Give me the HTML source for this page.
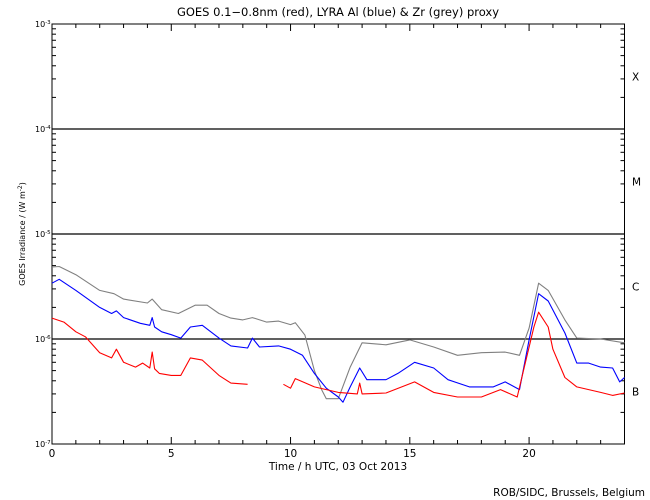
<!DOCTYPE html>
<html><head><meta charset="utf-8"><style>
body{margin:0;background:#fff;}
svg{display:block;font-family:"DejaVu Sans","Liberation Sans",sans-serif;}
</style></head><body>
<svg id="chart" width="650" height="500" viewBox="0 0 650 500" xmlns="http://www.w3.org/2000/svg">
<rect width="650" height="500" fill="#fff"/>
<text x="338" y="16" font-size="11.5" text-anchor="middle">GOES 0.1−0.8nm (red), LYRA Al (blue) &amp; Zr (grey) proxy</text>
<text transform="translate(25,234) rotate(-90)" font-size="8" text-anchor="middle">GOES Irradiance / (W m<tspan dy="-3" font-size="6">-2</tspan><tspan dy="3">)</tspan></text>
<text x="338" y="470" font-size="10.5" text-anchor="middle">Time / h UTC, 03 Oct 2013</text>
<text x="645" y="496" font-size="10.5" text-anchor="end">ROB/SIDC, Brussels, Belgium</text>
<g id="axes"></g>
<g id="series"></g>
</svg>
<script>
const hoursRed=[0,0.5,1,1.4,2,2.5,2.7,3,3.5,3.8,4.1,4.2,4.3,4.5,5,5.4,5.8,6.3,7,7.5,8.2,null,9.7,10,10.2,11,11.5,12,12.8,12.9,13,14,15.2,16,17,18,18.8,19.5,19.8,20.2,20.4,20.8,21,21.5,22,23,23.5,24];
const fluxRed=[1.58e-6,1.45e-6,1.17e-6,1.05e-6,7.4e-7,6.6e-7,8.0e-7,6.0e-7,5.4e-7,5.9e-7,5.3e-7,7.5e-7,5.2e-7,4.7e-7,4.5e-7,4.5e-7,6.6e-7,6.3e-7,4.5e-7,3.8e-7,3.7e-7,null,3.7e-7,3.4e-7,4.2e-7,3.5e-7,3.3e-7,3.1e-7,3.0e-7,3.8e-7,3.0e-7,3.06e-7,3.9e-7,3.1e-7,2.8e-7,2.8e-7,3.3e-7,2.8e-7,5.4e-7,1.3e-6,1.8e-6,1.3e-6,8.0e-7,4.3e-7,3.5e-7,3.1e-7,2.9e-7,3.06e-7];
const hoursBlue=[0,0.3,1,2,2.5,2.7,3,3.7,4.1,4.2,4.3,4.6,5,5.4,5.8,6.3,7,7.5,8.2,8.4,8.7,9.5,10,10.5,11,11.5,12,12.2,12.5,12.9,13.2,14,14.5,15.2,16,16.6,17.5,18.5,19,19.6,20,20.4,20.8,21.5,22,22.5,23,23.5,23.8,24];
const fluxBlue=[3.4e-6,3.7e-6,2.9e-6,2.0e-6,1.75e-6,1.85e-6,1.6e-6,1.41e-6,1.35e-6,1.6e-6,1.3e-6,1.17e-6,1.1e-6,1.02e-6,1.3e-6,1.35e-6,1.02e-6,8.6e-7,8.2e-7,1.02e-6,8.4e-7,8.6e-7,8.0e-7,7.0e-7,4.7e-7,3.4e-7,2.8e-7,2.5e-7,3.5e-7,5.3e-7,4.1e-7,4.1e-7,4.7e-7,6.0e-7,5.3e-7,4.1e-7,3.5e-7,3.5e-7,3.9e-7,3.3e-7,9.8e-7,2.7e-6,2.3e-6,1.14e-6,5.9e-7,5.9e-7,5.4e-7,5.3e-7,3.9e-7,4.3e-7];
const hoursGrey=[0,0.3,1,2,2.6,3,4,4.2,4.6,5.3,6,6.5,7,7.5,8,8.4,9,9.5,10,10.2,10.6,11,11.3,11.5,12,12.5,13,14,15,16,17,18,19,19.6,20,20.4,20.8,21.5,22,23,24];
const fluxGrey=[4.85e-6,4.9e-6,4.1e-6,2.9e-6,2.7e-6,2.4e-6,2.2e-6,2.4e-6,1.9e-6,1.75e-6,2.1e-6,2.1e-6,1.75e-6,1.58e-6,1.52e-6,1.6e-6,1.45e-6,1.48e-6,1.37e-6,1.43e-6,1.09e-6,5.0e-7,3.3e-7,2.7e-7,2.7e-7,5.4e-7,9.2e-7,8.8e-7,9.8e-7,8.4e-7,7.0e-7,7.4e-7,7.5e-7,7.0e-7,1.27e-6,3.4e-6,2.9e-6,1.52e-6,1.02e-6,1.0e-6,9.2e-7];
const xTickLabels=["0","5","10","15","20"];
const yDecades=[-7,-6,-5,-4,-3];
const classLabels=["B","C","M","X"];

const NS="http://www.w3.org/2000/svg";
const X0=52,X1=624.5,Y0=444,Y1=24;
function xs(h){return X0+h*(X1-X0)/24;}
function ys(v){return Y0-(Math.log10(v)+7)*(Y0-Y1)/4;}
function mk(tag,attrs,parent){const e=document.createElementNS(NS,tag);for(const k in attrs)e.setAttribute(k,attrs[k]);parent.appendChild(e);return e;}
const axes=document.getElementById('axes'),series=document.getElementById('series');

const frame=mk('rect',{x:X0,y:Y1,width:X1-X0,height:Y0-Y1,fill:'none',stroke:'#000','stroke-width':1},axes);


for(let h=0;h<=24;h++){
  const len=h%5===0?7:4;
  const t1=mk('line',{x1:xs(h),x2:xs(h),y1:Y0,y2:Y0-len,stroke:'#000'},axes);
  
  
  const t2=mk('line',{x1:xs(h),x2:xs(h),y1:Y1,y2:Y1+len,stroke:'#000'},axes);
  
  
}
xTickLabels.forEach(l=>{
  const t=mk('text',{x:xs(+l),y:457,'font-size':10.5,'text-anchor':'middle'},axes);t.textContent=l;
  
  
});
yDecades.forEach((d,i)=>{
  const y=ys(Math.pow(10,d));
  const t=mk('text',{x:35,y:y+3,'font-size':8},axes);
  t.innerHTML='10<tspan dy="-3" font-size="5.5">'+d+'</tspan>';
  
  
  if(d>-7&&d<-3){
    const g=mk('line',{x1:X0,x2:X1,y1:y,y2:y,stroke:'#000','stroke-width':1.2},axes);
    
    
  }
  if(d<-3){
    for(let m=1;m<10;m++){
      const yy=ys(m*Math.pow(10,d));const len=m===1?7:4;
      const a=mk('line',{x1:X0,x2:X0+len,y1:yy,y2:yy,stroke:'#000'},axes);
      
      
      const b=mk('line',{x1:X1,x2:X1-len,y1:yy,y2:yy,stroke:'#000'},axes);
      
      
    }
  }
});
classLabels.forEach((c,i)=>{
  const y=ys(Math.pow(10,-6.5+i));
  const t=mk('text',{x:632,y:y+4,'font-size':10.5},axes);t.textContent=c;
  
  
});
function draw(hours,flux,color,name){
  let d='',pen=false;
  hours.forEach((h,i)=>{
    if(h===null||flux[i]===null){pen=false;return;}
    d+=(pen?'L':'M')+xs(h).toFixed(1)+' '+ys(flux[i]).toFixed(1)+' ';pen=true;
  });
  const p=mk('path',{d:d,fill:'none',stroke:color,'stroke-width':1.1,'stroke-linejoin':'round'},series);
  
  
}
draw(hoursGrey,fluxGrey,'#808080','zr-proxy-series');
draw(hoursBlue,fluxBlue,'#0000ff','al-proxy-series');
draw(hoursRed,fluxRed,'#ff0000','goes-series');
</script>
</body></html>
